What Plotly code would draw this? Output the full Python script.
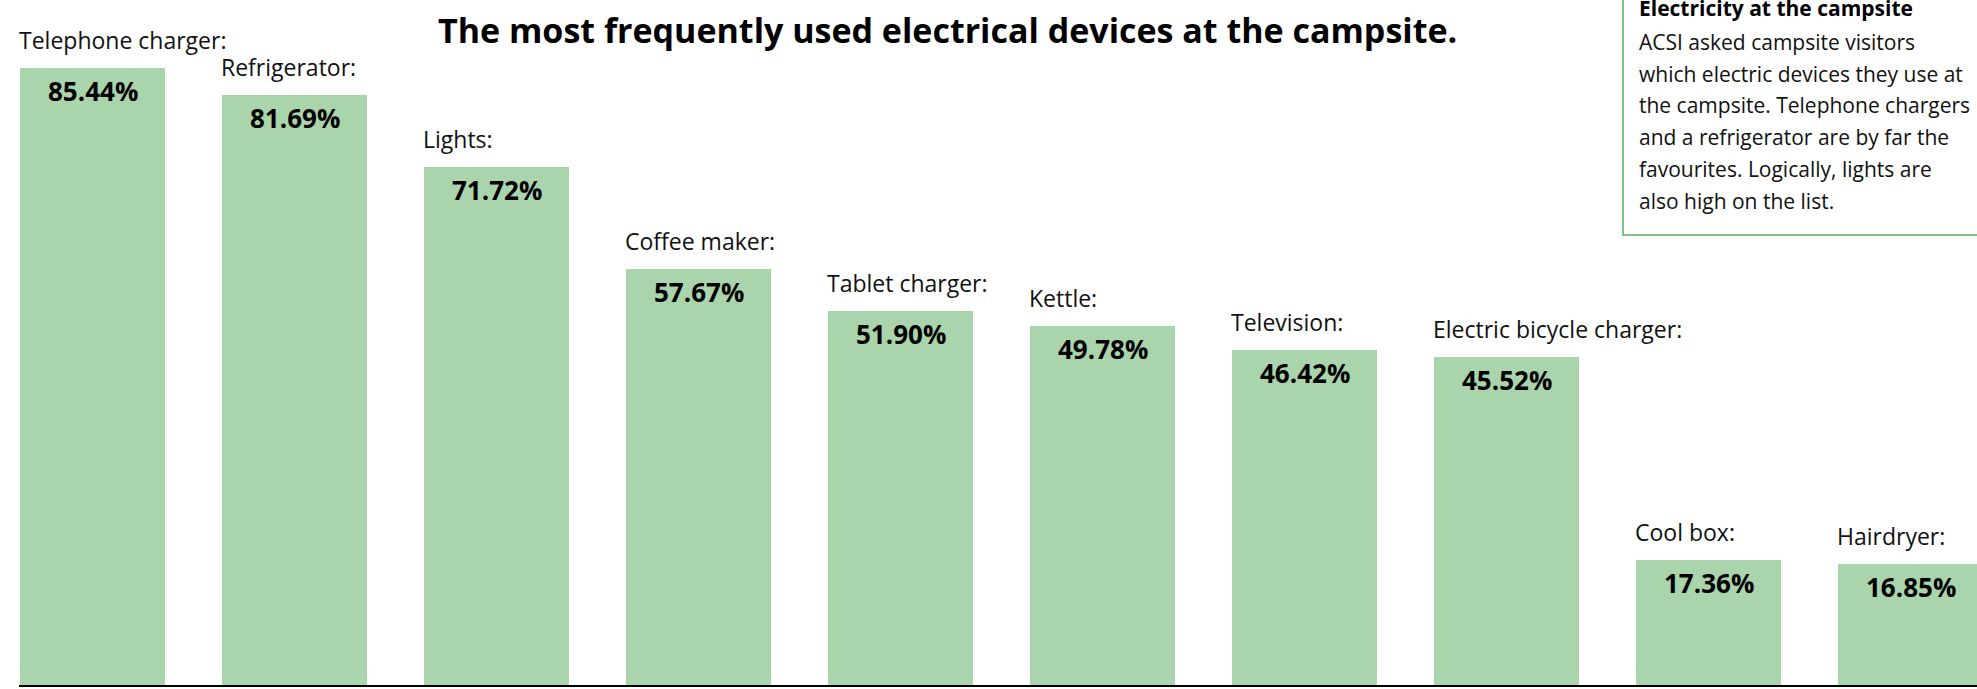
import plotly.graph_objects as go

devices = ["Telephone charger:", "Refrigerator:", "Lights:", "Coffee maker:", "Tablet charger:",
           "Kettle:", "Television:", "Electric bicycle charger:", "Cool box:", "Hairdryer:"]
shares = [85.44, 81.69, 71.72, 57.67, 51.90, 49.78, 46.42, 45.52, 17.36, 16.85]
value_labels = ["85.44%", "81.69%", "71.72%", "57.67%", "51.90%", "49.78%", "46.42%", "45.52%", "17.36%", "16.85%"]

title_text = "The most frequently used electrical devices at the campsite."
box_title = "Electricity at the campsite"
box_lines = ["ACSI asked campsite visitors",
             "which electric devices they use at",
             "the campsite. Telephone chargers",
             "and a refrigerator are by far the",
             "favourites. Logically, lights are",
             "also high on the list."]

W, H = 1977, 689
BASE = 686          # baseline pixel from top
PITCH = 202.0       # px per category
BARW = 145.0
FIRST_LEFT = 20.0
PX_PER_PCT = 7.23

FONT = "Open Sans"
BAR_COLOR = "#a9d4ac"
BOX_COLOR = "#5aae5e"

x = list(range(len(devices)))
r0 = -(FIRST_LEFT + BARW / 2) / PITCH
r1 = r0 + W / PITCH
ymax = BASE / PX_PER_PCT

def py(p):  # pixel y (from top) -> paper y
    return (BASE - p) / BASE

def px(p):
    return p / W

fig = go.Figure()
fig.add_trace(go.Bar(x=x, y=shares, width=BARW / PITCH, marker=dict(color=BAR_COLOR, line=dict(width=0)),
                     hoverinfo="skip"))

half = (BARW / 2) / PITCH
for i, (name, v, lab) in enumerate(zip(devices, shares, value_labels)):
    fig.add_annotation(x=i - half, y=v, xref="x", yref="y", text=name, showarrow=False,
                       xanchor="left", yanchor="bottom", yshift=10, xshift=-3,
                       font=dict(family=FONT, size=23, color="#111111"))
    fig.add_annotation(x=i, y=v, xref="x", yref="y", text="<b>" + lab + "</b>", showarrow=False,
                       xanchor="center", yanchor="top", yshift=-3,
                       font=dict(family=FONT, size=26, color="#000000"))

# title
fig.add_annotation(x=px(947), y=py(30), xref="paper", yref="paper", text="<b>" + title_text + "</b>",
                   showarrow=False, xanchor="center", yanchor="middle",
                   font=dict(family=FONT, size=34, color="#000000"))

# info box
fig.add_shape(type="rect", xref="paper", yref="paper", x0=px(1623), x1=px(1990), y0=py(235), y1=py(-10),
              line=dict(color=BOX_COLOR, width=1.5), fillcolor="rgba(0,0,0,0)")
fig.add_annotation(x=px(1637), y=py(8), xref="paper", yref="paper", text="<b>" + box_title + "</b>",
                   showarrow=False, xanchor="left", yanchor="middle",
                   font=dict(family=FONT, size=21, color="#000000"))
for k, line in enumerate(box_lines):
    fig.add_annotation(x=px(1637), y=py(42 + 31.7 * k), xref="paper", yref="paper", text=line,
                       showarrow=False, xanchor="left", yanchor="middle",
                       font=dict(family=FONT, size=21, color="#111111"))

# baseline
fig.add_shape(type="line", xref="paper", yref="paper", x0=px(19), x1=1, y0=0, y1=0,
              line=dict(color="#000000", width=2))

fig.update_layout(
    width=W, height=H, margin=dict(l=0, r=0, t=0, b=H - BASE),
    paper_bgcolor="white", plot_bgcolor="white", showlegend=False, bargap=0,
    xaxis=dict(range=[r0, r1], visible=False, fixedrange=True),
    yaxis=dict(range=[0, ymax], visible=False, fixedrange=True),
)
fig.write_html("out.html", config={"displayModeBar": False},
               post_script="document.body.style.margin='0';document.body.style.overflow='hidden';")
